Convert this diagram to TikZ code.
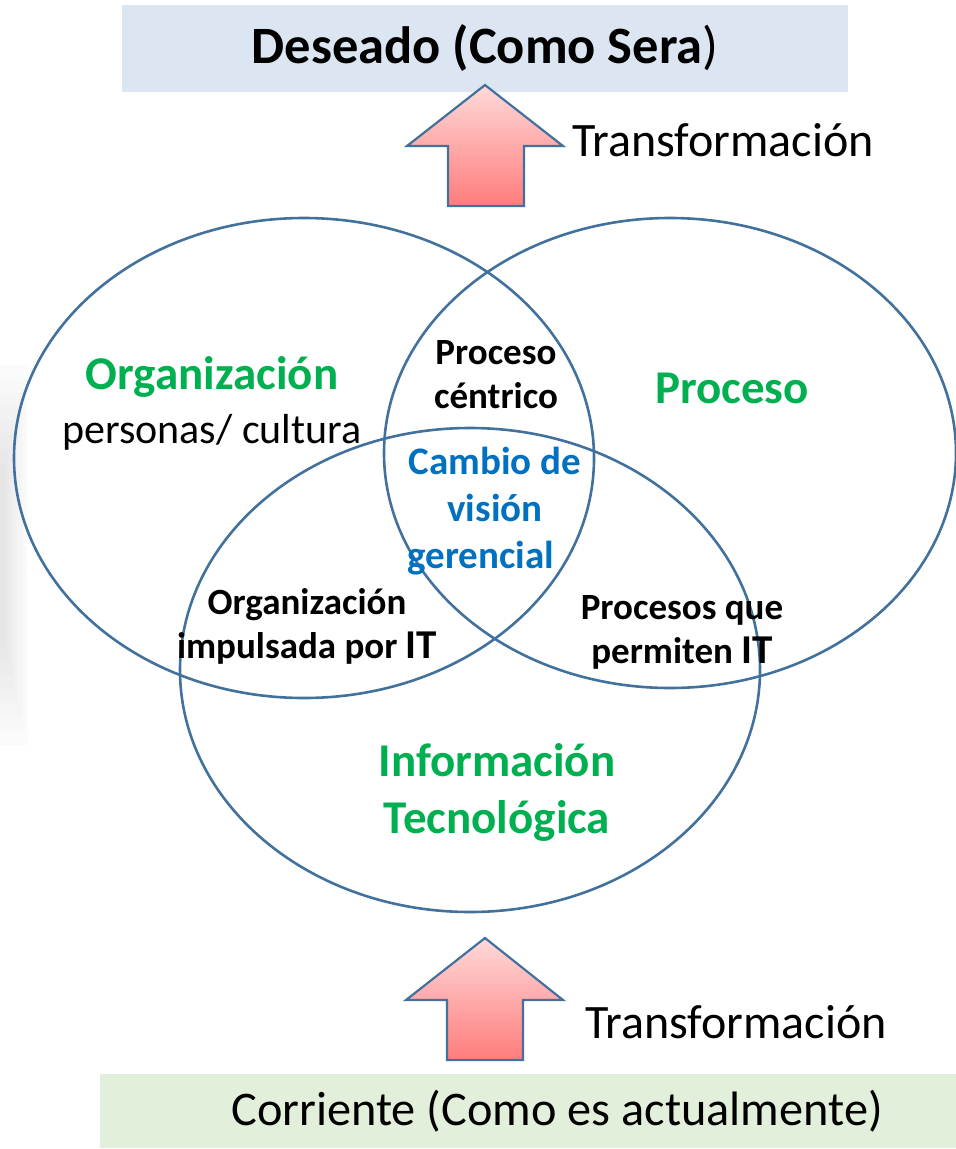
\documentclass[tikz,border=0pt]{standalone}
\usepackage{fontspec}
\setmainfont{Carlito}
\definecolor{ringblue}{HTML}{41719C}
\definecolor{topfill}{HTML}{DCE6F2}
\definecolor{botfill}{HTML}{E2EFDA}
\definecolor{lblgreen}{HTML}{00B050}
\definecolor{lblblue}{HTML}{0070C0}
\definecolor{arrtop}{HTML}{FFD9D9}
\definecolor{arrbot}{HTML}{FF7C7C}
\tikzset{
  ring/.style={draw=ringblue, line width=2.6pt},
  bigarrow/.style={top color=arrtop, bottom color=arrbot},
  arrowline/.style={draw=ringblue, line width=2.2pt, line join=miter},
  lbl/.style={inner sep=0pt, align=center, text=black},
  greenlbl/.style={lbl, text=lblgreen, font=\fontsize{47}{57}\selectfont\bfseries},
  smalllbl/.style={lbl, font=\fontsize{37}{44}\selectfont\bfseries},
  plainlbl/.style={lbl, font=\fontsize{48}{56}\selectfont},
}
\begin{document}
\begin{tikzpicture}[x=1pt,y=-1pt]
\useasboundingbox (0,0) rectangle (956,1149);
% faint shadow at left edge (nested soft bands)
\foreach \k in {0,...,7}{
  \pgfmathsetmacro{\shd}{1.5+1.2*\k}
  \fill[black!\shd] (0,{365+14*\k}) rectangle ({28-3.2*\k},{745-14*\k});
}
% boxes
\fill[topfill] (122,5) rectangle (848,92);
\fill[botfill] (100,1074) rectangle (956,1148);
\node[lbl, font=\fontsize{52.5}{60}\selectfont] (title) at (485,48) {\bfseries Deseado (Como Sera\mdseries)};
\node[plainlbl, font=\fontsize{48.3}{56}\selectfont] (bottom) at (557,1111) {Corriente (Como es actualmente)};
% arrows
\shade[bigarrow] (485,85) -- (563,146) -- (524,146) -- (524,206) -- (448,206) -- (448,146) -- (407,146) -- cycle;
\draw[arrowline] (485,85) -- (563,146) -- (524,146) -- (524,206) -- (448,206) -- (448,146) -- (407,146) -- cycle;
\shade[bigarrow] (485,938) -- (563,1000) -- (523,1000) -- (523,1060) -- (447,1060) -- (447,1000) -- (406,1000) -- cycle;
\draw[arrowline] (485,938) -- (563,1000) -- (523,1000) -- (523,1060) -- (447,1060) -- (447,1000) -- (406,1000) -- cycle;
\node[plainlbl, anchor=west] (t1) at (572,140) {Transformación};
\node[plainlbl, anchor=west] (t2) at (585,1022) {Transformación};
% ellipses
\draw[ring] (304,458) ellipse [x radius=290, y radius=240];
\draw[ring] (670,453) ellipse [x radius=286, y radius=235];
\draw[ring] (470,670) ellipse [x radius=290, y radius=242];
% labels
\node[greenlbl] (org) at (212,377) {Organización};
\node[lbl, font=\fontsize{42}{50}\selectfont] (pers) at (212,432) {personas/ cultura};
\node[greenlbl] (proc) at (732,388) {Proceso};
\node[smalllbl] (pc) at (496,375) {Proceso\\céntrico};
\node[lbl, text=lblblue, font=\fontsize{39}{47}\selectfont\bfseries] (cv) at (495,511) {Cambio de\\visión\hspace*{6pt}\\gerencial\hspace*{28pt}};
\node[smalllbl] (oi) at (307,626) {Organización\\impulsada por {\fontsize{41}{44}\selectfont IT}};
\node[smalllbl] (pq) at (682,632) {Procesos que\\permiten {\fontsize{41}{44}\selectfont IT}};
\node[greenlbl] (it) at (497,792) {Información\\Tecnológica};
\end{tikzpicture}
\end{document}
